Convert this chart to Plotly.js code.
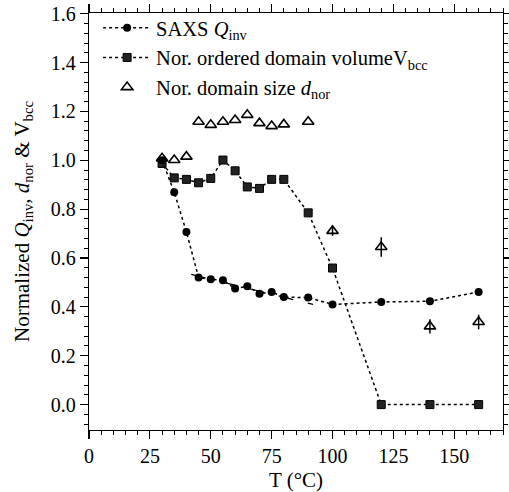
<!DOCTYPE html>
<html>
<head>
<meta charset="utf-8">
<script src="https://cdn.plot.ly/plotly-3.0.1.min.js"></script>
<style>html,body{margin:0;padding:0;background:#fff;}#chart{width:509px;height:492px;}</style>
</head>
<body>
<div id="chart"></div>
<script>
// SAXS Q_inv
const tempQ = [30, 35, 40, 45, 50, 55, 60, 65, 70, 75, 80, 90, 100, 120, 140, 160];
const valQ  = [1.0, 0.869, 0.707, 0.52, 0.513, 0.509, 0.475, 0.484, 0.454, 0.461, 0.44, 0.438, 0.41, 0.42, 0.423, 0.461];
// Normalized ordered domain volume V_bcc
const tempV = [30, 35, 40, 45, 50, 55, 60, 65, 70, 75, 80, 90, 100, 120, 140, 160];
const valV  = [0.987, 0.928, 0.922, 0.908, 0.926, 1.001, 0.957, 0.891, 0.885, 0.922, 0.922, 0.785, 0.559, 0.0, 0.0, 0.0];
// Normalized domain size d_nor
const tempD = [30, 35, 40, 45, 50, 55, 60, 65, 70, 75, 80, 90, 100, 120, 140, 160];
const valD  = [1.008, 1.001, 1.015, 1.158, 1.145, 1.158, 1.165, 1.186, 1.152, 1.14, 1.147, 1.158, 0.711, 0.645, 0.32, 0.338];
const errD  = [0, 0, 0, 0, 0, 0, 0, 0, 0, 0, 0, 0, 0.02, 0.04, 0.029, 0.03];
// Linear fit (dashed)
const fitT = [42, 92];
const fitV = [0.533, 0.41];

const FONT = "Liberation Serif, Times New Roman, serif";

const traces = [
  {x: tempD, y: valD, type: 'scatter', mode: 'markers', name: 'Nor. domain size <i>d</i><sub>nor</sub>',
   legendrank: 3,
   marker: {symbol: 'triangle-up-open', size: 10, color: '#000', line: {width: 1.6, color: '#000'}},
   error_y: {type: 'data', array: errD, visible: true, color: '#000', thickness: 1.5, width: 0}},
  {x: fitT, y: fitV, type: 'scatter', mode: 'lines', showlegend: false,
   line: {color: '#000', width: 1.2, dash: 'longdash'}},
  {x: tempV, y: valV, type: 'scatter', mode: 'lines+markers', name: 'Nor. ordered domain volumeV<sub>bcc</sub>',
   legendrank: 2,
   line: {color: '#000', width: 1.5, dash: 'dot'},
   marker: {symbol: 'square', size: 8, color: '#222', line: {width: 1, color: '#000'}}},
  {x: tempQ, y: valQ, type: 'scatter', mode: 'lines+markers', name: 'SAXS <i>Q</i><sub>inv</sub>',
   legendrank: 1,
   line: {color: '#000', width: 1.5, dash: 'dot'},
   marker: {symbol: 'circle', size: 8, color: '#000'}}
];

const axisCommon = {
  showline: true, linecolor: '#000', linewidth: 1.2, mirror: 'allticks',
  ticks: 'outside', ticklen: 8, tickwidth: 1.2, tickcolor: '#000',
  showgrid: false, zeroline: false,
  tickfont: {family: FONT, size: 20, color: '#000'}
};

const layout = {
  width: 509, height: 492,
  margin: {l: 89, r: 6, t: 13, b: 62},
  paper_bgcolor: '#fff', plot_bgcolor: '#fff',
  font: {family: FONT, size: 20, color: '#000'},
  showlegend: true,
  legend: {x: 0.022, y: 1.012, xanchor: 'left', yanchor: 'top', bgcolor: 'rgba(0,0,0,0)',
           itemwidth: 48,
           font: {family: FONT, size: 20.5, color: '#000'}, traceorder: 'normal'},
  xaxis: Object.assign({}, axisCommon, {
    range: [0, 170], tick0: 0, dtick: 25,
    minor: {dtick: 5, ticklen: 4, tickwidth: 1, tickcolor: '#000', ticks: 'outside'},
    title: {text: 'T (°C)', font: {family: FONT, size: 21, color: '#000'}, standoff: 6}
  }),
  yaxis: Object.assign({}, axisCommon, {
    range: [-0.104, 1.603], tick0: 0, dtick: 0.2, tickformat: '.1f',
    minor: {dtick: 0.04, ticklen: 4, tickwidth: 1, tickcolor: '#000', ticks: 'outside'},
    title: {text: 'Normalized <i>Q</i><sub>inv</sub>, <i>d</i><sub>nor</sub> & V<sub>bcc</sub>',
            font: {family: FONT, size: 21, color: '#000'}, standoff: 15}
  })
};

Plotly.newPlot('chart', traces, layout, {displayModeBar: false, staticPlot: true});
</script>
</body>
</html>
